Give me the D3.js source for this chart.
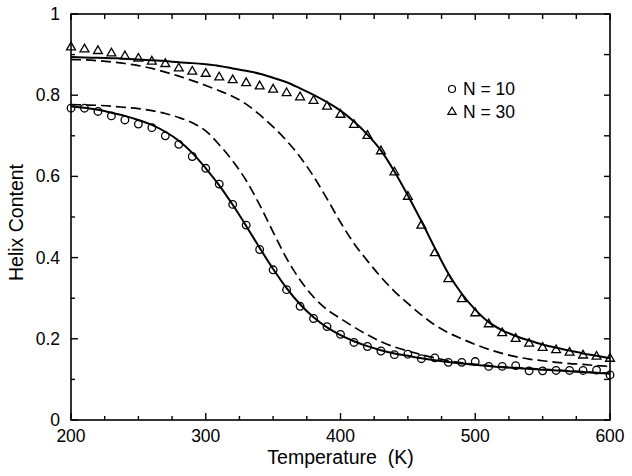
<!DOCTYPE html>
<html><head><meta charset="utf-8">
<script src="https://cdn.jsdelivr.net/npm/d3@7"></script>
<style>
html,body{margin:0;padding:0;background:#fff;}
svg{display:block;font-family:"Liberation Sans",Arial,Helvetica,sans-serif;}
</style></head>
<body>
<svg id="chart" width="632" height="476"></svg>
<script>
// Temperatures (K) for every sample, 200..600 step 10
const temps = [200,210,220,230,240,250,260,270,280,290,300,310,320,330,340,350,360,370,380,390,400,410,420,430,440,450,460,470,480,490,500,510,520,530,540,550,560,570,580,590,600];

// Simulation points
const circlesN10 = [0.768,0.768,0.760,0.749,0.739,0.729,0.720,0.700,0.679,0.649,0.620,0.581,0.531,0.480,0.420,0.370,0.321,0.280,0.250,0.230,0.211,0.191,0.181,0.170,0.161,0.162,0.151,0.153,0.142,0.142,0.144,0.132,0.132,0.134,0.121,0.121,0.122,0.122,0.122,0.123,0.111];
const trianglesN30 = [0.920,0.915,0.911,0.905,0.898,0.892,0.885,0.879,0.868,0.860,0.855,0.846,0.839,0.832,0.824,0.816,0.807,0.797,0.788,0.774,0.754,0.729,0.702,0.664,0.612,0.552,0.481,0.413,0.349,0.300,0.265,0.238,0.216,0.202,0.190,0.180,0.174,0.168,0.161,0.158,0.153];

// Theory curves
const solidN10 = [0.772,0.769,0.764,0.757,0.749,0.739,0.727,0.710,0.688,0.658,0.620,0.578,0.530,0.478,0.424,0.372,0.325,0.285,0.253,0.228,0.209,0.194,0.182,0.172,0.164,0.158,0.152,0.147,0.143,0.139,0.136,0.133,0.130,0.128,0.126,0.124,0.122,0.120,0.118,0.116,0.114];
const dashedN10 = [0.777,0.776,0.775,0.773,0.770,0.767,0.762,0.755,0.745,0.732,0.712,0.678,0.638,0.590,0.530,0.463,0.398,0.345,0.303,0.272,0.250,0.229,0.210,0.193,0.180,0.170,0.161,0.153,0.146,0.141,0.137,0.134,0.131,0.129,0.127,0.125,0.123,0.121,0.119,0.117,0.115];
const solidN30 = [0.894,0.893,0.892,0.891,0.890,0.888,0.886,0.884,0.881,0.879,0.876,0.872,0.866,0.860,0.853,0.843,0.832,0.817,0.801,0.783,0.762,0.735,0.703,0.664,0.612,0.553,0.490,0.424,0.361,0.311,0.272,0.241,0.221,0.207,0.196,0.186,0.178,0.171,0.164,0.158,0.152];
const dashedN30 = [0.888,0.887,0.885,0.882,0.878,0.873,0.866,0.857,0.847,0.836,0.824,0.811,0.797,0.778,0.752,0.722,0.688,0.648,0.600,0.545,0.487,0.435,0.392,0.352,0.317,0.287,0.259,0.234,0.215,0.200,0.186,0.174,0.164,0.156,0.150,0.146,0.142,0.139,0.137,0.134,0.132];

// Axis ticks
const xTicks = [200,300,400,500,600];
const yTicks = [0,0.2,0.4,0.6,0.8,1];
const yTickLabels = ["0","0.2","0.4","0.6","0.8","1"];
const legendLabels = ["N = 10","N = 30"];
const xTitle = "Temperature\u00A0\u00A0(K)";
const yTitle = "Helix Content";

const svg = d3.select("#chart");
const L = 71, R = 610, T = 14, B = 420;
const x = d3.scaleLinear().domain([200,600]).range([L,R]);
const y = d3.scaleLinear().domain([0,1]).range([B,T]);
const FS = "17.5px";
const TFS = "19.5px";

// plot frame
const g = svg.append("g");
g.append("rect").attr("x",L).attr("y",T).attr("width",R-L).attr("height",B-T)
  .attr("fill","none").attr("stroke","#000").attr("stroke-width",1.6);

// ticks (inward)
const xMinor = d3.range(200,601,25);
const yMinor = d3.range(0,1.0001,0.1);
xMinor.forEach(v=>{
  const major = v%100===0;
  g.append("line").attr("x1",x(v)).attr("x2",x(v)).attr("y1",B).attr("y2",B-(major?7:4)).attr("stroke","#000").attr("stroke-width",1.4);
  g.append("line").attr("x1",x(v)).attr("x2",x(v)).attr("y1",T).attr("y2",T+(major?6:5)).attr("stroke","#000").attr("stroke-width",1.4);
});
yMinor.forEach(v=>{
  const major = Math.abs(v*5-Math.round(v*5))<1e-6;
  g.append("line").attr("x1",L).attr("x2",L+(major?7:4)).attr("y1",y(v)).attr("y2",y(v)).attr("stroke","#000").attr("stroke-width",1.4);
  g.append("line").attr("x1",R).attr("x2",R-6).attr("y1",y(v)).attr("y2",y(v)).attr("stroke","#000").attr("stroke-width",1.4);
});

// tick labels
xTicks.forEach(v=>{
  svg.append("text").attr("x",x(v)).attr("y",442).attr("text-anchor","middle")
    .attr("font-size",FS).attr("fill","#000").text(v);
});
yTicks.forEach((v,i)=>{
  svg.append("text").attr("x",60).attr("y",y(v)+6).attr("text-anchor","end")
    .attr("font-size",FS).attr("fill","#000").text(yTickLabels[i]);
});

// axis titles
svg.append("text").attr("x",340.5).attr("y",464).attr("text-anchor","middle")
  .attr("font-size",TFS).attr("fill","#000").text(xTitle);
svg.append("text").attr("transform","translate(23,222.5) rotate(-90)").attr("text-anchor","middle")
  .attr("font-size",TFS).attr("fill","#000").text(yTitle);

// curves
const line = d3.line().x((d,i)=>x(temps[i])).y(d=>y(d)).curve(d3.curveMonotoneX);
const curves = [
  {data: dashedN10, dash:"10,5", w:1.7},
  {data: dashedN30, dash:"10,5", w:1.7},
  {data: solidN10, dash:null, w:2},
  {data: solidN30, dash:null, w:2}
];
curves.forEach(c=>{
  svg.append("path").attr("d",line(c.data)).attr("fill","none").attr("stroke","#000")
    .attr("stroke-width",c.w).attr("stroke-dasharray",c.dash);
});

// markers
svg.append("g").selectAll("circle").data(circlesN10).join("circle")
  .attr("cx",(d,i)=>x(temps[i])).attr("cy",d=>y(d)).attr("r",3.8)
  .attr("fill","none").attr("stroke","#000").attr("stroke-width",1.3);
const tri = d3.symbol().type(d3.symbolTriangle).size(34);
svg.append("g").selectAll("path").data(trianglesN30).join("path")
  .attr("d",tri).attr("transform",(d,i)=>`translate(${x(temps[i])},${y(d)+0.8})`)
  .attr("fill","none").attr("stroke","#000").attr("stroke-width",1.3);

// legend
const lg = svg.append("g");
lg.append("circle").attr("cx",452).attr("cy",89).attr("r",3.5).attr("fill","none").attr("stroke","#000").attr("stroke-width",1.2);
lg.append("path").attr("d",d3.symbol().type(d3.symbolTriangle).size(30)).attr("transform","translate(452,112)")
  .attr("fill","none").attr("stroke","#000").attr("stroke-width",1.2);
legendLabels.forEach((t,i)=>{
  lg.append("text").attr("x",463).attr("y",95+i*23).attr("font-size",FS).attr("fill","#000").text(t);
});
</script>
</body></html>
